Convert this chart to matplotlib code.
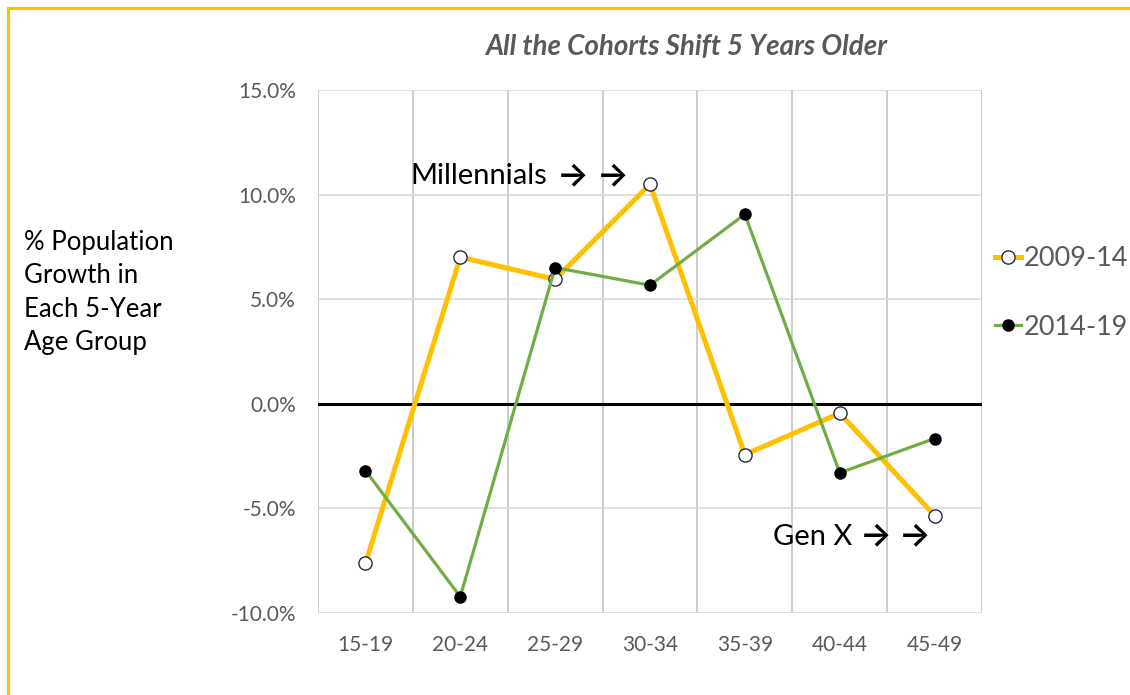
import numpy as np
import matplotlib
matplotlib.use("Agg")
import matplotlib.pyplot as plt
from matplotlib.patches import Rectangle
from matplotlib.ticker import FuncFormatter

# data (percent growth per age group)
ageGroups = ["15-19", "20-24", "25-29", "30-34", "35-39", "40-44", "45-49"]
growth_2009_14 = [-7.63, 7.01, 5.95, 10.49, -2.43, -0.45, -5.34]
growth_2014_19 = [-3.19, -9.22, 6.51, 5.67, 9.06, -3.30, -1.66]
yTicks = [-10, -5, 0, 5, 10, 15]

plt.rcParams['font.family'] = ['Lato', 'DejaVu Sans']

fig = plt.figure(figsize=(11.3, 6.95), dpi=100)
ax = fig.add_axes([318/1130, 1 - 613/695, (982-318)/1130, (613-90)/695])

x = np.arange(len(ageGroups))

# gridlines: horizontal at each tick, vertical between categories
ax.set_ylim(-10, 15)
ax.set_xlim(-0.5, len(ageGroups) - 0.5)
ax.set_yticks(yTicks)
ax.set_xticks(x)
ax.set_xticks(np.arange(-0.5, len(ageGroups)), minor=True)
ax.yaxis.grid(True, color='#d9d9d9', lw=1.2)
ax.xaxis.grid(True, which='minor', color='#c4c4c4', lw=1.2)
ax.set_axisbelow(True)
for s in ax.spines.values():
    s.set_visible(False)
ax.tick_params(which='both', length=0)
ax.tick_params(axis='y', labelsize=15, labelcolor='#595959', pad=16)
ax.tick_params(axis='x', labelsize=15, labelcolor='#595959', pad=16)
ax.set_xticklabels(ageGroups)
ax.yaxis.set_major_formatter(FuncFormatter(lambda v, p: "%.1f%%" % v))

ax.axhline(0, color='black', lw=2.2, zorder=2)

ax.plot(x, growth_2009_14, color='#ffc000', lw=3.6, marker='o', ms=9.5,
        mfc='white', mec='#1f2a44', mew=1.0, label='2009-14', zorder=3)
ax.plot(x, growth_2014_19, color='#70ad47', lw=2.3, marker='o', ms=8,
        mfc='black', mec='black', label='2014-19', zorder=4)

fig.text(686/1130, 1 - 47/695, "All the Cohorts Shift 5 Years Older",
         ha='center', va='center', fontsize=20, fontstyle='italic', fontweight='bold', color='#595959')

# cohort notes, each arrow drawn on its own
arrowFont = ['Inter', 'Roboto', 'DejaVu Sans']
ax.text(0.47, 10.87, "Millennials", fontsize=21, color='black', ha='left', va='center')
for ax_x in [2.02, 2.44]:
    ax.text(ax_x, 10.87, "→", fontsize=24, fontweight='semibold', family=arrowFont,
            color='black', ha='left', va='center')
ax.text(4.30, -6.35, "Gen X", fontsize=21, color='black', ha='left', va='center')
for ax_x in [5.21, 5.62]:
    ax.text(ax_x, -6.35, "→", fontsize=24, fontweight='semibold', family=arrowFont,
            color='black', ha='left', va='center')

fig.text(24/1130, 1 - 292.5/695, "% Population\nGrowth in\nEach 5-Year\nAge Group",
         fontsize=18.5, color='black', ha='left', va='center', linespacing=1.41)

leg = ax.legend(loc='center left', bbox_to_anchor=(1.003, 0.612), frameon=False,
                fontsize=19.5, labelcolor='#595959', handlelength=0.95, handletextpad=0.1,
                labelspacing=1.6, borderaxespad=0)

# yellow frame round the figure
fig.patches.append(Rectangle((8/1130, -0.1), 1.2, 1 - 8/695 + 0.1, transform=fig.transFigure,
                             fill=False, edgecolor='#ffc000', lw=2.2))

fig.savefig("out.png", dpi=100)
